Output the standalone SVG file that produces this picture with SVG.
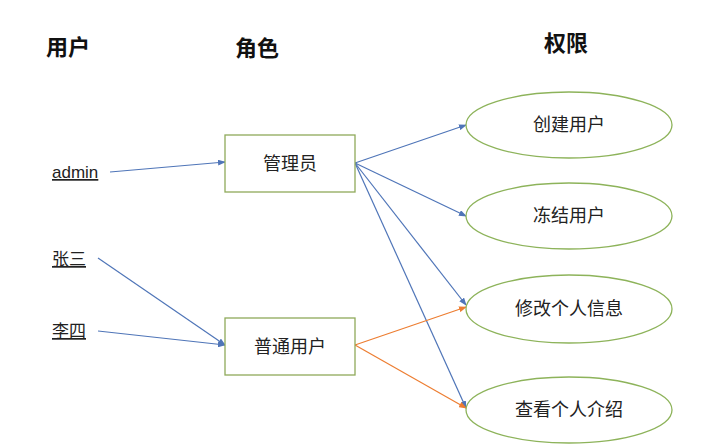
<svg xmlns="http://www.w3.org/2000/svg" width="703" height="448" viewBox="0 0 703 448">
<defs>
<style>
.hdr{font-family:"Noto Sans CJK SC","Liberation Sans",sans-serif;font-size:22px;font-weight:bold;fill:#111}
.lbl{font-family:"Noto Sans CJK SC","Liberation Sans",sans-serif;font-size:18px;fill:#222}
.usr{font-family:"Liberation Sans","Noto Sans CJK SC",sans-serif;font-size:17px;fill:#222;text-decoration:underline}
.box{fill:#fff;stroke:#8faa5a;stroke-width:1.3}
.ell{fill:#fff;stroke:#8db35a;stroke-width:1.3}
.b{stroke:#4f75b8;stroke-width:1.2;fill:none;marker-end:url(#ab)}
.o{stroke:#ed7d31;stroke-width:1.2;fill:none;marker-end:url(#ao)}
</style>
<marker id="ab" markerWidth="8" markerHeight="6" refX="7" refY="3" orient="auto" markerUnits="userSpaceOnUse"><path d="M0,0 L8,3 L0,6 Z" fill="#4f75b8"/></marker>
<marker id="ao" markerWidth="8" markerHeight="6" refX="7" refY="3" orient="auto" markerUnits="userSpaceOnUse"><path d="M0,0 L8,3 L0,6 Z" fill="#ed7d31"/></marker>
</defs>
<rect width="703" height="448" fill="#fff"/>
<g id="headers">
<text class="hdr" x="46" y="55">用户</text>
<text class="hdr" x="235" y="56">角色</text>
<text class="hdr" x="544" y="51">权限</text>
</g>
<g id="connectors">
<line class="b" x1="110" y1="172" x2="225" y2="162"/>
<line class="b" x1="98" y1="258" x2="225" y2="345"/>
<line class="b" x1="98" y1="331" x2="225" y2="345"/>
<line class="b" x1="355" y1="163" x2="466" y2="125"/>
<line class="b" x1="355" y1="163" x2="466" y2="216"/>
<line class="b" x1="355" y1="163" x2="466" y2="305"/>
<line class="b" x1="355" y1="163" x2="466" y2="408"/>
<line class="o" x1="355" y1="345" x2="466" y2="307"/>
<line class="o" x1="355" y1="345" x2="466" y2="408"/>
</g>
<g id="user-admin"><text class="usr" x="52" y="178">admin</text></g>
<g id="user-zhangsan"><text class="usr" x="52" y="265">张三</text></g>
<g id="user-lisi"><text class="usr" x="52" y="337">李四</text></g>
<g id="role-admin"><rect class="box" x="225" y="135" width="130" height="57"/><text class="lbl" x="290" y="170" text-anchor="middle">管理员</text></g>
<g id="role-user"><rect class="box" x="225" y="318" width="130" height="57"/><text class="lbl" x="290" y="353" text-anchor="middle">普通用户</text></g>
<g id="perm-create"><ellipse class="ell" cx="569" cy="125" rx="103" ry="33"/><text class="lbl" x="569" y="131" text-anchor="middle">创建用户</text></g>
<g id="perm-freeze"><ellipse class="ell" cx="569" cy="216" rx="103" ry="33"/><text class="lbl" x="569" y="222" text-anchor="middle">冻结用户</text></g>
<g id="perm-edit"><ellipse class="ell" cx="569" cy="309" rx="103" ry="34"/><text class="lbl" x="569" y="315" text-anchor="middle">修改个人信息</text></g>
<g id="perm-view"><ellipse class="ell" cx="569" cy="410" rx="103" ry="33"/><text class="lbl" x="569" y="416" text-anchor="middle">查看个人介绍</text></g>
</svg>
